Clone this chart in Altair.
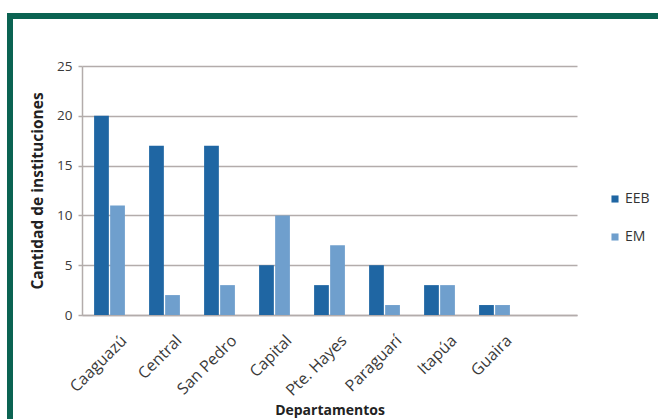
import altair as alt
import pandas as pd

# Institutions per department, by level
departamentos = ["Caaguazú", "Central", "San Pedro", "Capital", "Pte. Hayes",
                 "Paraguarí", "Itapúa", "Guaira"]
eeb = [20, 17, 17, 5, 3, 5, 3, 1]
em = [11, 2, 3, 10, 7, 1, 3, 1]
series = ["EEB", "EM"]
colors = ["#1f66a3", "#6f9fcd"]

rows = []
for d, a, b in zip(departamentos, eeb, em):
    rows.append({"Departamento": d, "Nivel": "EEB", "Cantidad": a})
    rows.append({"Departamento": d, "Nivel": "EM", "Cantidad": b})
df = pd.DataFrame(rows)

# one trailing empty slot on the category axis
x_domain = departamentos + [""]

FONT = "Open Sans"
GRID = "#b3acab"
W, H = 495, 249
PAD_L, PAD_T = 82, 66

bars = alt.Chart(df).mark_bar().encode(
    x=alt.X("Departamento:N", sort=x_domain,
            scale=alt.Scale(domain=x_domain, paddingInner=0.44, paddingOuter=0.22),
            axis=alt.Axis(title="Departamentos", labelAngle=-45, labelAlign="right",
                          labelBaseline="top", labelFontSize=16, labelColor="#3a3a3a",
                          labelPadding=17, labelOffset=9, ticks=False, domainColor=GRID,
                          domainWidth=1.5, titleFontSize=14, titleFontWeight="bold",
                          titleColor="#222", titlePadding=5, labelFont=FONT,
                          titleFont=FONT)),
    xOffset=alt.XOffset("Nivel:N", sort=series, scale=alt.Scale(paddingInner=0.08)),
    y=alt.Y("Cantidad:Q", scale=alt.Scale(domain=[0, 25], nice=False),
            axis=alt.Axis(title="Cantidad de instituciones", values=[0, 5, 10, 15, 20, 25],
                          tickSize=4, tickColor=GRID, tickWidth=1.5, gridColor=GRID,
                          gridWidth=1.5, domainColor=GRID, domainWidth=1.5,
                          labelFontSize=13.5, labelColor="#3a3a3a", labelPadding=6,
                          titleFontSize=15.5, titleFontWeight="bold", titleColor="#222",
                          titlePadding=11, labelFont=FONT, titleFont=FONT)),
    color=alt.Color("Nivel:N", scale=alt.Scale(domain=series, range=colors),
                    legend=alt.Legend(title=None, orient="none", legendX=526, legendY=126,
                                      symbolType="square", symbolSize=50,
                                      symbolStrokeWidth=0, labelFontSize=14,
                                      labelFont=FONT, labelColor="#333", labelOffset=3,
                                      rowPadding=24, padding=0)),
)

# dark green frame around the figure
frame = alt.Chart(pd.DataFrame({"k": [0]})).mark_rect(
    fill=None, stroke="#0b6352", strokeWidth=6, clip=False
).encode(
    x=alt.value(10 - PAD_L), x2=alt.value(700 - PAD_L),
    y=alt.value(16 - PAD_T), y2=alt.value(460 - PAD_T),
)

chart = alt.layer(bars, frame).properties(
    width=W, height=H,
    autosize=alt.AutoSizeParams(type="none"),
    padding={"left": PAD_L, "top": PAD_T, "right": 658 - PAD_L - W, "bottom": 419 - PAD_T - H},
    background="white",
).configure_view(stroke=None)

chart.save("out.html", embed_options={"renderer": "svg", "actions": False})
